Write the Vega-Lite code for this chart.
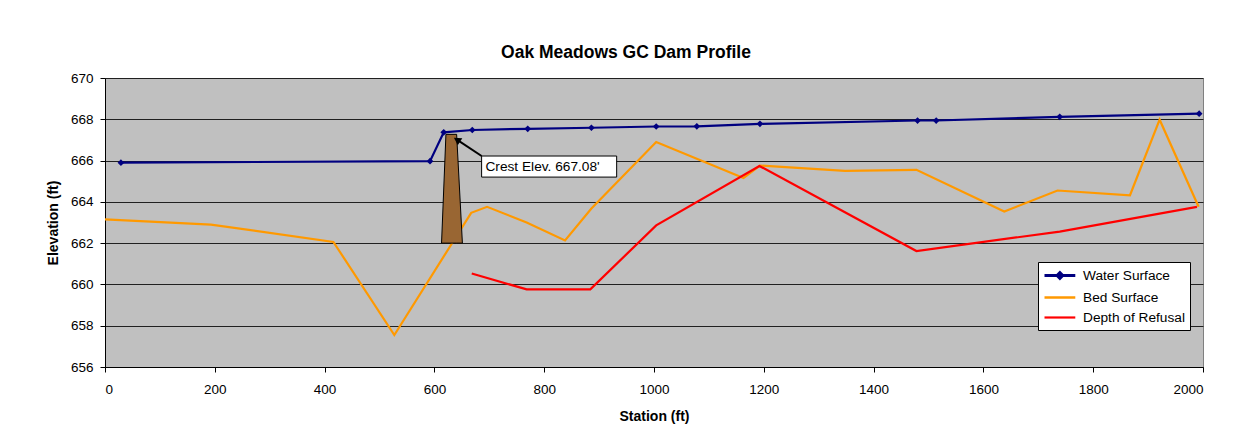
{
  "$schema": "https://vega.github.io/schema/vega-lite/v6.json",
  "width": 1098,
  "height": 289,
  "autosize": {"type": "none"},
  "padding": {"left": 105, "top": 78, "right": 41, "bottom": 79},
  "background": "white",
  "title": {
    "text": "Oak Meadows GC Dam Profile",
    "font": "Liberation Sans",
    "fontSize": 17.5,
    "fontWeight": "bold",
    "color": "black",
    "anchor": "middle",
    "dx": -28,
    "baseline": "alphabetic",
    "offset": -4
  },
  "config": {
    "view": {"fill": "#C0C0C0", "stroke": "#808080", "strokeWidth": 1},
    "axis": {
      "labelFont": "Liberation Sans",
      "labelFontSize": 13.5,
      "labelColor": "black",
      "titleFont": "Liberation Sans",
      "titleFontSize": 14,
      "titleFontWeight": "bold",
      "titleColor": "black",
      "domainColor": "black",
      "tickColor": "black",
      "tickSize": 5
    },
    "legend": {
      "labelFont": "Liberation Sans",
      "labelFontSize": 13.7,
      "labelColor": "black"
    }
  },
  "datasets": {
    "profile": [
      {"series": "Water Surface", "station": 29, "elev": 665.90},
      {"series": "Water Surface", "station": 592, "elev": 665.97},
      {"series": "Water Surface", "station": 617, "elev": 667.37},
      {"series": "Water Surface", "station": 669, "elev": 667.48},
      {"series": "Water Surface", "station": 770, "elev": 667.54},
      {"series": "Water Surface", "station": 886, "elev": 667.59},
      {"series": "Water Surface", "station": 1004, "elev": 667.65},
      {"series": "Water Surface", "station": 1078, "elev": 667.66},
      {"series": "Water Surface", "station": 1193, "elev": 667.78},
      {"series": "Water Surface", "station": 1480, "elev": 667.94},
      {"series": "Water Surface", "station": 1514, "elev": 667.94},
      {"series": "Water Surface", "station": 1739, "elev": 668.12},
      {"series": "Water Surface", "station": 1993, "elev": 668.27},
      {"series": "Bed Surface", "station": 0, "elev": 663.15},
      {"series": "Bed Surface", "station": 193, "elev": 662.90},
      {"series": "Bed Surface", "station": 416, "elev": 662.06},
      {"series": "Bed Surface", "station": 527, "elev": 657.55},
      {"series": "Bed Surface", "station": 667, "elev": 663.47},
      {"series": "Bed Surface", "station": 696, "elev": 663.76},
      {"series": "Bed Surface", "station": 768, "elev": 663.00},
      {"series": "Bed Surface", "station": 838, "elev": 662.13},
      {"series": "Bed Surface", "station": 886, "elev": 663.68},
      {"series": "Bed Surface", "station": 1004, "elev": 666.90},
      {"series": "Bed Surface", "station": 1163, "elev": 665.16},
      {"series": "Bed Surface", "station": 1193, "elev": 665.76},
      {"series": "Bed Surface", "station": 1348, "elev": 665.50},
      {"series": "Bed Surface", "station": 1478, "elev": 665.55},
      {"series": "Bed Surface", "station": 1638, "elev": 663.53},
      {"series": "Bed Surface", "station": 1735, "elev": 664.55},
      {"series": "Bed Surface", "station": 1867, "elev": 664.32},
      {"series": "Bed Surface", "station": 1921, "elev": 667.98},
      {"series": "Bed Surface", "station": 1992, "elev": 663.76},
      {"series": "Depth of Refusal", "station": 668, "elev": 660.53},
      {"series": "Depth of Refusal", "station": 768, "elev": 659.76},
      {"series": "Depth of Refusal", "station": 884, "elev": 659.76},
      {"series": "Depth of Refusal", "station": 1004, "elev": 662.86},
      {"series": "Depth of Refusal", "station": 1192, "elev": 665.74},
      {"series": "Depth of Refusal", "station": 1478, "elev": 661.62},
      {"series": "Depth of Refusal", "station": 1739, "elev": 662.56},
      {"series": "Depth of Refusal", "station": 1989, "elev": 663.76}
    ],
    "dam": [
      {"station": 613, "elev": 662.0},
      {"station": 621, "elev": 667.27},
      {"station": 640.5, "elev": 667.27},
      {"station": 651, "elev": 662.0}
    ],
    "callout": [
      {"label": "Crest Elev. 667.08'", "x1": 686, "x2": 932, "y1": 665.20, "y2": 666.22, "tx": 693, "ty": 665.71, "ax": 686, "ay": 666.22, "hx": 643, "hy": 666.98}
    ]
  },
  "layer": [
    {
      "data": {"name": "profile"},
      "mark": {"type": "line", "strokeWidth": 2.2, "clip": true},
      "encoding": {
        "x": {
          "field": "station", "type": "quantitative",
          "scale": {"domain": [0, 2000], "nice": false},
          "axis": {
            "title": "Station (ft)",
            "values": [0, 200, 400, 600, 800, 1000, 1200, 1400, 1600, 1800, 2000],
            "grid": false,
            "labelPadding": 10,
            "titlePadding": 14,
            "format": "d"
          }
        },
        "y": {
          "field": "elev", "type": "quantitative",
          "scale": {"domain": [656, 670], "nice": false, "zero": false},
          "axis": {
            "title": "Elevation (ft)",
            "values": [656, 658, 660, 662, 664, 666, 668, 670],
            "grid": true,
            "gridColor": "#202020",
            "gridWidth": 1,
            "gridOpacity": 1,
            "labelPadding": 7,
            "titlePadding": 10,
            "format": "d"
          }
        },
        "strokeWidth": {
          "field": "series", "type": "nominal",
          "scale": {"domain": ["Water Surface", "Bed Surface", "Depth of Refusal"], "range": [2.8, 2.2, 2.2]},
          "legend": null
        },
        "color": {
          "field": "series", "type": "nominal",
          "scale": {
            "domain": ["Water Surface", "Bed Surface", "Depth of Refusal"],
            "range": ["#000080", "#FF9900", "#FF0000"]
          },
          "legend": {
            "title": null,
            "orient": "none",
            "legendX": 933,
            "legendY": 184,
            "fillColor": "white",
            "strokeColor": "black",
            "padding": 5,
            "rowPadding": 4,
            "labelOffset": 23,
            "symbolSize": 196,
            "symbolStrokeWidth": 2.5,
            "encode": {
              "symbols": {
                "update": {
                  "shape": {"signal": "datum.value === 'Water Surface' ? 'M-1,0L3.4,0M1.2,-0.42L1.62,0L1.2,0.42L0.78,0Z' : 'M-1,0L3.4,0'"},
                  "fill": {"signal": "datum.value === 'Water Surface' ? '#000080' : 'transparent'"}
                }
              }
            }
          }
        }
      }
    },
    {
      "data": {"name": "profile"},
      "transform": [{"filter": "datum.series === 'Water Surface'"}],
      "mark": {"type": "point", "shape": "diamond", "filled": true, "color": "#000080", "size": 45, "opacity": 1},
      "encoding": {
        "x": {"field": "station", "type": "quantitative"},
        "y": {"field": "elev", "type": "quantitative"}
      }
    },
    {
      "data": {"name": "dam"},
      "mark": {"type": "area", "color": "#996633", "stroke": "black", "strokeWidth": 1, "opacity": 1},
      "encoding": {
        "x": {"field": "station", "type": "quantitative"},
        "y": {"field": "elev", "type": "quantitative"},
        "y2": {"datum": 662}
      }
    },
    {
      "data": {"name": "callout"},
      "mark": {"type": "rule", "color": "black", "strokeWidth": 2},
      "encoding": {
        "x": {"field": "ax", "type": "quantitative"},
        "y": {"field": "ay", "type": "quantitative"},
        "x2": {"field": "hx"},
        "y2": {"field": "hy"}
      }
    },
    {
      "data": {"name": "callout"},
      "mark": {"type": "point", "shape": "triangle", "angle": 303, "filled": true, "color": "black", "size": 70, "opacity": 1},
      "encoding": {
        "x": {"field": "hx", "type": "quantitative"},
        "y": {"field": "hy", "type": "quantitative"}
      }
    },
    {
      "data": {"name": "callout"},
      "mark": {"type": "rect", "fill": "white", "stroke": "black", "strokeWidth": 1},
      "encoding": {
        "x": {"field": "x1", "type": "quantitative"},
        "x2": {"field": "x2"},
        "y": {"field": "y1", "type": "quantitative"},
        "y2": {"field": "y2"}
      }
    },
    {
      "data": {"name": "callout"},
      "mark": {"type": "text", "align": "left", "baseline": "middle", "font": "Liberation Sans", "fontSize": 13.7, "color": "black"},
      "encoding": {
        "x": {"field": "tx", "type": "quantitative"},
        "y": {"field": "ty", "type": "quantitative"},
        "text": {"field": "label"}
      }
    }
  ]
}
